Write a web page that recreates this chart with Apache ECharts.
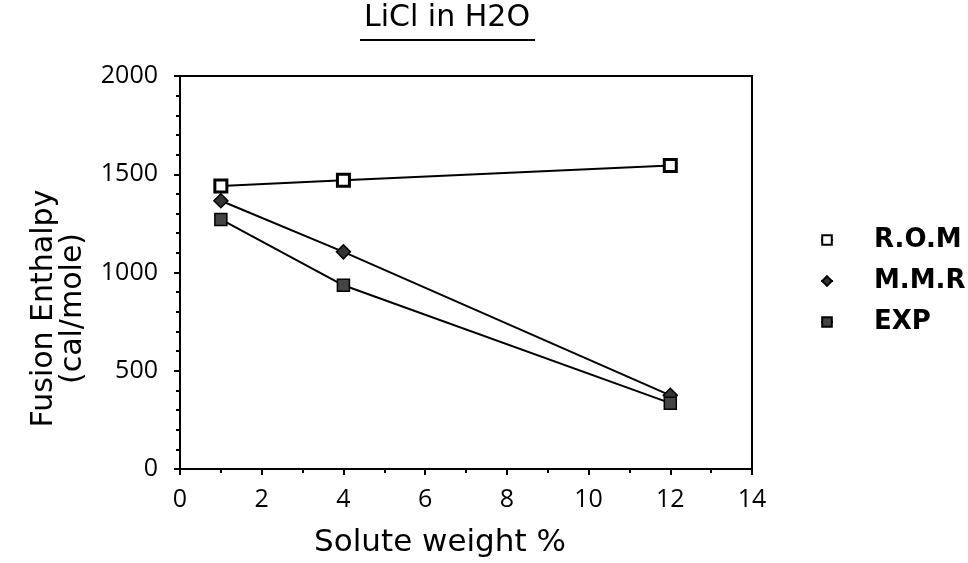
<!DOCTYPE html>
<html>
<head>
<meta charset="utf-8">
<script src="https://cdn.jsdelivr.net/npm/echarts@6/dist/echarts.min.js"></script>
<style>
  html, body { margin: 0; padding: 0; background: #fff; }
  #chart { width: 968px; height: 563px; }
</style>
</head>
<body>
<div id="chart"></div>
<script>
// data
const weights = [1, 4, 12];
const rom = [1440, 1470, 1545];
const mmr = [1365, 1105, 375];
const exp = [1270, 935, 335];
const seriesNames = ['R.O.M', 'M.M.R', 'EXP'];

const font = '"DejaVu Sans", sans-serif';
const digits = '"Open Sans", "DejaVu Sans", sans-serif';

const chart = echarts.init(document.getElementById('chart'));

// pair x with y for value axes
const pairs = ys => weights.map((x, i) => [x, ys[i]]);

const option = {
  backgroundColor: '#fff',
  animation: false,
  title: {
    text: 'LiCl in H2O',
    left: 447,
    top: 3,
    padding: 0,
    textAlign: 'center',
    textStyle: { fontFamily: font, fontSize: 30, fontWeight: 'normal', color: '#000' }
  },
  graphic: [
    // underline under the title
    { type: 'line', shape: { x1: 360, y1: 40, x2: 535, y2: 40 }, style: { stroke: '#000', lineWidth: 2 } }
  ],
  legend: {
    orient: 'vertical',
    left: 815,
    top: 222,
    itemGap: 15,
    itemWidth: 12,
    itemHeight: 12,
    textStyle: { fontFamily: font, fontSize: 26, fontWeight: 'bold', color: '#000', padding: [0, 0, 0, 36] },
    data: seriesNames
  },
  grid: {
    left: 180, right: 216, top: 76, bottom: 92,
    show: true, borderColor: '#000', borderWidth: 2
  },
  xAxis: {
    type: 'value',
    min: 0, max: 14, interval: 2,
    name: 'Solute weight %',
    nameLocation: 'middle',
    nameGap: 58,
    nameTextStyle: { fontFamily: font, fontSize: 31, color: '#000', padding: [0, 52, 0, 0] },
    axisLine: { lineStyle: { color: '#000', width: 2 } },
    axisTick: { length: 6, lineStyle: { color: '#000', width: 2 } },
    minorTick: { show: true, splitNumber: 2, length: 4, lineStyle: { color: '#000', width: 2 } },
    splitLine: { show: false },
    axisLabel: { fontFamily: digits, fontSize: 25, color: '#000', margin: 18 }
  },
  yAxis: {
    type: 'value',
    min: 0, max: 2000, interval: 500,
    name: 'Fusion Enthalpy\n(cal/mole)',
    nameLocation: 'middle',
    nameGap: 92,
    nameTextStyle: { fontFamily: font, fontSize: 30, color: '#000', lineHeight: 29, padding: [0, 72, 0, 0] },
    axisLine: { show: true, lineStyle: { color: '#000', width: 2 } },
    axisTick: { show: true, length: 6, lineStyle: { color: '#000', width: 2 } },
    minorTick: { show: true, splitNumber: 5, length: 4, lineStyle: { color: '#000', width: 2 } },
    splitLine: { show: false },
    axisLabel: { fontFamily: digits, fontSize: 25, color: '#000', margin: 22, formatter: v => String(v) }
  },
  series: [
    {
      name: seriesNames[0], type: 'line', data: pairs(rom),
      symbol: 'rect', symbolSize: 12,
      itemStyle: { color: '#fff', borderColor: '#000', borderWidth: 3 },
      lineStyle: { color: '#000', width: 2 }
    },
    {
      name: seriesNames[1], type: 'line', data: pairs(mmr),
      symbol: 'diamond', symbolSize: 14,
      itemStyle: { color: '#333', borderColor: '#000', borderWidth: 1.5 },
      lineStyle: { color: '#000', width: 2 }
    },
    {
      name: seriesNames[2], type: 'line', data: pairs(exp),
      symbol: 'rect', symbolSize: 12,
      itemStyle: { color: '#444', borderColor: '#000', borderWidth: 1.5 },
      lineStyle: { color: '#000', width: 2 }
    }
  ]
};

option && chart.setOption(option);
</script>
</body>
</html>
